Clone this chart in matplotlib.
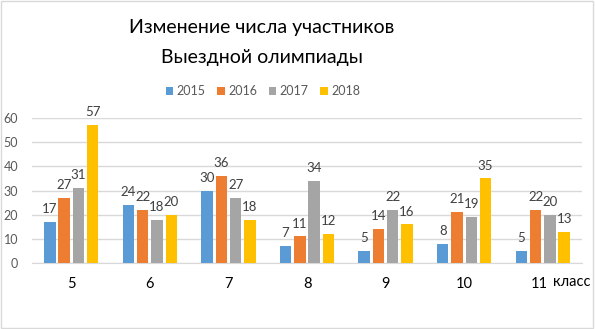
import matplotlib
matplotlib.use("Agg")
import matplotlib.pyplot as plt
import numpy as np
from matplotlib.patches import Rectangle

categories = ["5", "6", "7", "8", "9", "10", "11"]
years = ["2015", "2016", "2017", "2018"]
v2015 = [17, 24, 30, 7, 5, 8, 5]
v2016 = [27, 22, 36, 11, 14, 21, 22]
v2017 = [31, 18, 27, 34, 22, 19, 20]
v2018 = [57, 20, 18, 12, 16, 35, 13]
series = [v2015, v2016, v2017, v2018]
colors = ["#5B9BD5", "#ED7D31", "#A5A5A5", "#FFC000"]
yticks = [0, 10, 20, 30, 40, 50, 60]

plt.rcParams['font.family'] = ['Lato', 'DejaVu Sans']

fig = plt.figure(figsize=(5.95, 3.29), dpi=100)
fig.patches.append(Rectangle((0.002, 0.003), 0.995, 0.994, transform=fig.transFigure,
                             fill=False, edgecolor="#D9D9D9", lw=1))
ax = fig.add_axes([32/595, 1 - 263/329, 550/595, 145/329])

x = np.arange(len(categories))
pitch = 0.182
width = 0.145
for i, (vals, col, yr) in enumerate(zip(series, colors, years)):
    pos = x + (i - 1.5) * pitch
    ax.bar(pos, vals, width=width, color=col, label=yr, zorder=3)
    for p, v in zip(pos, vals):
        ax.text(p, v + 2.8, str(v), ha="center", va="bottom", fontsize=9.5,
                color="#404040", clip_on=False)

ax.set_xlim(-0.5, len(categories) - 0.5)
ax.set_ylim(0, 60)
ax.set_yticks(yticks)
ax.yaxis.grid(True, color="#D9D9D9", lw=1, zorder=0)
ax.set_axisbelow(True)
for s in ["top", "right", "left"]:
    ax.spines[s].set_visible(False)
ax.spines["bottom"].set_color("#D9D9D9")
ax.tick_params(axis="y", length=0, labelsize=9, labelcolor="#595959", pad=10)
ax.tick_params(axis="x", length=0, labelsize=10.5, labelcolor="#000000", pad=10)
ax.set_xticks(x - np.array([0, 0, 0, 0, 0, 0, 0.05]))
ax.set_xticklabels(categories)
fig.text(572/595, 1 - 282/329, "класс", ha="center", va="center",
         fontsize=10.5, color="#000000")

fig.text(262/595, 1 - 27/329, "Изменение числа участников", ha="center", va="center",
         fontsize=14, color="#000000")
fig.text(262/595, 1 - 58/329, "Выездной олимпиады", ha="center", va="center",
         fontsize=14, color="#000000")

leg = fig.legend(loc="center", bbox_to_anchor=(263/595, 1 - 91/329), ncol=4, frameon=False,
                 fontsize=9, handlelength=0.6, handleheight=0.6, columnspacing=0.9,
                 handletextpad=0.3)
for t in leg.get_texts():
    t.set_color("#595959")

fig.savefig("out.png", dpi=100)
